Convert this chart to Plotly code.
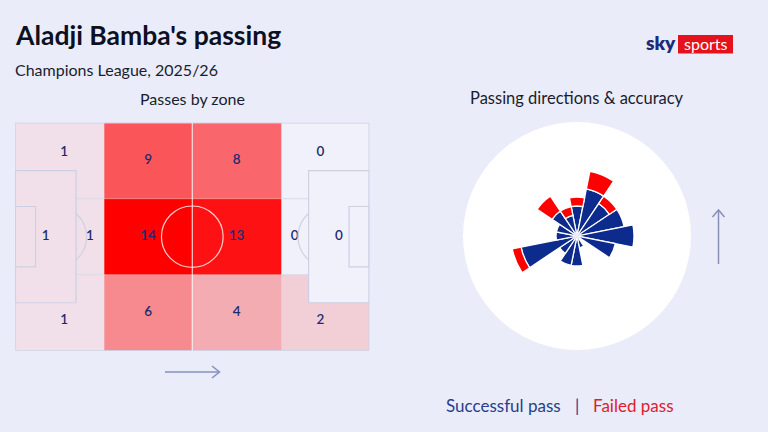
import numpy as np
import plotly.graph_objects as go

# ---------------- DATA ----------------
title = "Aladji Bamba's passing"
subtitle = "Champions League, 2025/26"

# Passes by zone (attacking left -> right)
own_third = {"top": 1, "box": 1, "edge": 1, "bottom": 1}
own_half_mid = [9, 14, 6]        # top, centre, bottom
opp_half_mid = [8, 13, 4]        # top, centre, bottom
final_third = {"top": 0, "box": 0, "edge": 0, "bottom": 2}

# Passing directions (degrees clockwise from forward)
directions = [0, 22.5, 45, 67.5, 90, 112.5, 135, 157.5,
              180, 202.5, 225, 247.5, 270, 292.5, 315, 337.5]
successful = [3, 5, 4, 5, 6, 4, 0, 1, 3, 3, 2, 6, 2, 2, 3, 2]
failed = [1, 2, 1, 0, 0, 0, 0, 0, 0, 0, 0, 1, 0, 0, 2, 1]

# ---------------- STYLE / GEOMETRY ----------------
W, H = 768, 432
BG = "#eaecf9"
NAVY = "#0c2b8c"
RED = "#ff0000"
FONT = "Lato"
LINE = "#cdd0e3"

L, Wd = 105.0, 68.0
box_d = 18.0
box_y0, box_y1 = 14.3, 53.7
six_d = 6.0
six_y0, six_y1 = 25.0, 43.0
rows = [0, Wd / 3, 2 * Wd / 3, Wd]
cols = [0, L / 4, L / 2, 3 * L / 4, L]


def px(x, y):
    return x / W, 1 - y / H


xe = [0, box_d, cols[1], cols[2], cols[3], L - box_d, L]
ye = [0, box_y0, rows[1], rows[2], box_y1, Wd]

zone_vals = {
    "Ltop": own_third["top"], "Lbox": own_third["box"], "Ledge": own_third["edge"], "Lbot": own_third["bottom"],
    "M1top": own_half_mid[0], "M1mid": own_half_mid[1], "M1bot": own_half_mid[2],
    "M2top": opp_half_mid[0], "M2mid": opp_half_mid[1], "M2bot": opp_half_mid[2],
    "Rtop": final_third["top"], "Rbox": final_third["box"], "Redge": final_third["edge"], "Rbot": final_third["bottom"],
}
zone_grid = [
    ["Ltop", "Ltop", "M1top", "M2top", "Rtop", "Rtop"],
    ["Lbox", "Ltop", "M1top", "M2top", "Rtop", "Rbox"],
    ["Lbox", "Ledge", "M1mid", "M2mid", "Redge", "Rbox"],
    ["Lbox", "Lbot", "M1bot", "M2bot", "Rbot", "Rbox"],
    ["Lbot", "Lbot", "M1bot", "M2bot", "Rbot", "Rbot"],
]
z = [[zone_vals[k] for k in row] for row in zone_grid]

# zone centroids for labels
acc = {}
for i, row in enumerate(zone_grid):
    for j, k in enumerate(row):
        a = (xe[j + 1] - xe[j]) * (ye[i + 1] - ye[i])
        cx = (xe[j + 1] + xe[j]) / 2
        cy = (ye[i + 1] + ye[i]) / 2
        s = acc.setdefault(k, [0, 0, 0])
        s[0] += a; s[1] += a * cx; s[2] += a * cy
lab_x, lab_y, lab_t = [], [], []
for k, (a, sx, sy) in acc.items():
    lab_x.append(sx / a); lab_y.append(sy / a); lab_t.append(str(zone_vals[k]))

fig = go.Figure()
fig.add_trace(go.Heatmap(
    x=xe, y=ye, z=z, zmin=0, zmax=max(own_half_mid + opp_half_mid),
    colorscale=[[0, "#f0f1fb"], [1, "#ff0000"]], showscale=False,
    hoverinfo="skip", xaxis="x", yaxis="y"))
fig.add_trace(go.Scatter(
    x=lab_x, y=lab_y, text=lab_t, mode="text",
    textfont=dict(family=FONT, size=13.5, color="#1f2b6e", weight=600),
    hoverinfo="skip", showlegend=False, xaxis="x", yaxis="y"))

# rose
fig.add_trace(go.Barpolar(r=successful, theta=directions, width=22.5,
                          marker=dict(color=NAVY, line=dict(color="white", width=1.3)),
                          name="Successful pass", showlegend=False, hoverinfo="skip"))
fig.add_trace(go.Barpolar(r=failed, theta=directions, width=22.5,
                          marker=dict(color=RED, line=dict(color="white", width=1.3)),
                          name="Failed pass", showlegend=False, hoverinfo="skip"))

shapes = []


def dline(x0, y0, x1, y1, color=LINE, w=1.2):
    shapes.append(dict(type="line", xref="x", yref="y", x0=x0, y0=y0, x1=x1, y1=y1,
                       line=dict(color=color, width=w)))


# zone boundary lines (faint)
for yb in rows[1:3]:
    dline(box_d, yb, cols[1], yb, "#d9dbea", 1)
    dline(L - box_d, yb, cols[3], yb, "#d9dbea", 1)
    dline(cols[1], yb, cols[3], yb, "rgba(255,255,255,0.35)", 1)

# pitch markings
shapes.append(dict(type="rect", xref="x", yref="y", x0=0, y0=0, x1=L, y1=Wd,
                   line=dict(color=LINE, width=1.5)))
dline(L / 2, 0, L / 2, Wd, "rgba(255,255,255,0.8)", 1.2)
shapes.append(dict(type="circle", xref="x", yref="y", x0=L / 2 - 9.15, x1=L / 2 + 9.15,
                   y0=Wd / 2 - 9.15, y1=Wd / 2 + 9.15,
                   line=dict(color="rgba(255,255,255,0.8)", width=1.2)))
for side in (0, 1):
    def fx(x):
        return x if side == 0 else L - x
    shapes.append(dict(type="rect", xref="x", yref="y", x0=fx(0), x1=fx(box_d), y0=box_y0, y1=box_y1,
                       line=dict(color=LINE, width=1.2)))
    shapes.append(dict(type="rect", xref="x", yref="y", x0=fx(0), x1=fx(six_d), y0=six_y0, y1=six_y1,
                       line=dict(color=LINE, width=1.2)))
    spot = 12.0
    half = np.degrees(np.arccos((box_d - spot) / 9.15))
    ang = np.radians(np.linspace(-half, half, 30))
    xs = spot + 9.15 * np.cos(ang)
    ys = Wd / 2 + 9.15 * np.sin(ang)
    path = "M " + " L ".join(f"{fx(a):.3f},{b:.3f}" for a, b in zip(xs, ys))
    shapes.append(dict(type="path", xref="x", yref="y", path=path, line=dict(color=LINE, width=1.2)))

# arrows
AR = "#8690bb"


def pline(pts, color=AR, w=1.5):
    path = "M " + " L ".join(f"{px(x, y)[0]:.5f},{px(x, y)[1]:.5f}" for x, y in pts)
    shapes.append(dict(type="path", xref="paper", yref="paper", path=path, line=dict(color=color, width=w)))


pline([(165, 372), (219, 372)])
pline([(212, 366), (219.5, 372), (212, 378)])
pline([(718.5, 264), (718.5, 210)])
pline([(712.5, 217), (718.5, 210), (724.5, 217)])

# logo box
x0, y1p = px(678, 35)
x1, y0p = px(733, 53.5)
shapes.append(dict(type="rect", xref="paper", yref="paper", x0=x0, x1=x1, y0=y0p, y1=y1p,
                   fillcolor="#e5121b", line=dict(width=0)))

annotations = []


def txt(s, x, y, size, color="#111827", anchor="left", weight=400, family=FONT):
    xx, yy = px(x, y)
    annotations.append(dict(text=s, x=xx, y=yy, xref="paper", yref="paper", showarrow=False,
                            xanchor=anchor, yanchor="middle",
                            font=dict(family=family, size=size, color=color, weight=weight)))


txt(title, 13, 35, 26.5, "#0d1020", weight=700)
txt(subtitle, 13, 69, 16, "#1a1d2e")
txt("Passes by zone", 192.5, 98, 16, "#1a1d2e", anchor="center")
txt("Passing directions & accuracy", 577, 98, 16.5, "#1a1d2e", anchor="center")
txt("Successful pass", 444, 405, 17, "#27408b")
txt("|", 576.5, 405, 17, "#27408b", anchor="center")
txt("Failed pass", 591, 405, 17, "#e0202a")
txt("sky", 661, 43, 19, "#1b2a7a", anchor="center", weight=800)
txt("sports", 705.5, 43.5, 16, "white", anchor="center")

cx, cy, rad = 577, 236, 114
fig.update_layout(
    width=W, height=H, margin=dict(l=0, r=0, t=0, b=0),
    paper_bgcolor=BG, plot_bgcolor="rgba(0,0,0,0)",
    xaxis=dict(domain=[15.3 / W, 369.3 / W], range=[0, L], visible=False, fixedrange=True),
    yaxis=dict(domain=[1 - 350.7 / H, 1 - 122.7 / H], range=[Wd, 0], visible=False, fixedrange=True),
    polar=dict(
        domain=dict(x=[(cx - rad) / W, (cx + rad) / W], y=[1 - (cy + rad) / H, 1 - (cy - rad) / H]),
        bgcolor="white", hole=3 / rad, barmode="stack",
        radialaxis=dict(range=[0, (rad - 3) / 9.0], visible=False),
        angularaxis=dict(rotation=90, direction="clockwise", visible=False),
    ),
    shapes=shapes, annotations=annotations, showlegend=False,
)

fig.write_html("out.html")
